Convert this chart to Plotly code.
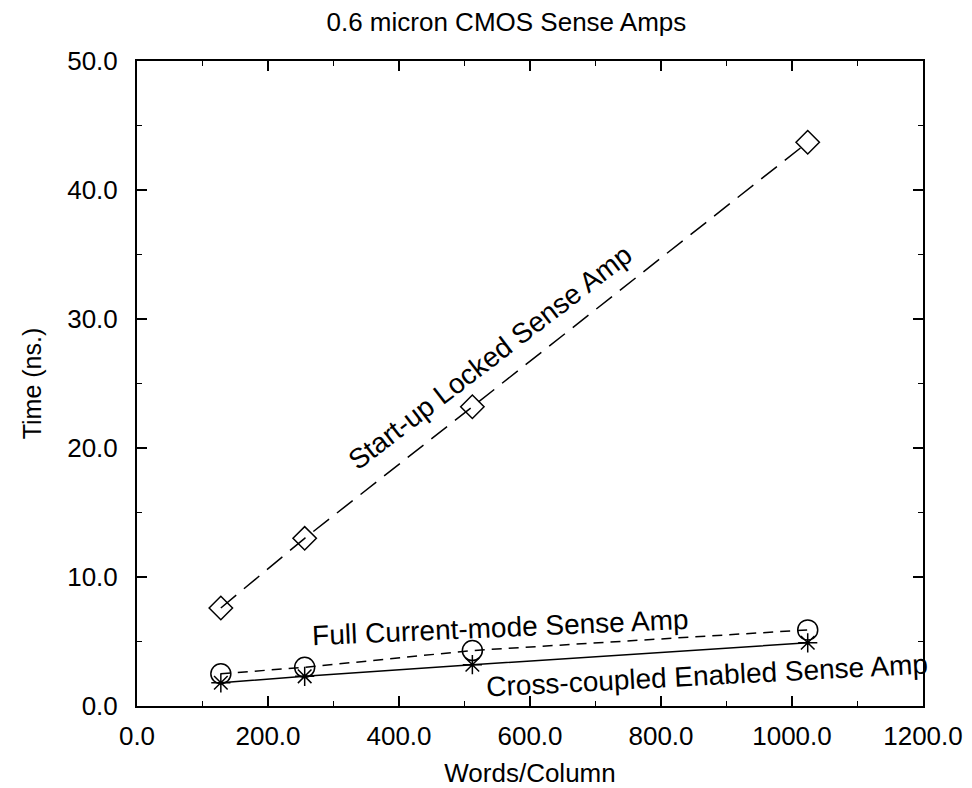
import plotly.graph_objects as go

words = [128, 256, 512, 1024]
startup = [7.6, 13.0, 23.2, 43.7]
fullcurrent = [2.5, 3.0, 4.3, 5.9]
crosscoupled = [1.8, 2.3, 3.2, 4.9]

FONT = "Liberation Sans, Arial, sans-serif"

fig = go.Figure()
fig.add_trace(go.Scatter(x=words, y=startup, mode="lines+markers",
    line=dict(color="black", width=1.5, dash="20px,10px"),
    marker=dict(symbol="diamond-open", size=18, color="black", line=dict(width=1.5))))
fig.add_trace(go.Scatter(x=words, y=fullcurrent, mode="lines+markers",
    line=dict(color="black", width=1.5, dash="10px,7px"),
    marker=dict(symbol="circle-open", size=20, color="black", line=dict(width=1.5))))
fig.add_trace(go.Scatter(x=words, y=crosscoupled, mode="lines+markers",
    line=dict(color="black", width=1.5),
    marker=dict(symbol="asterisk-open", size=16, color="black", line=dict(width=1.5))))

ann = dict(showarrow=False, font=dict(family=FONT, size=28, color="black"),
           xref="x", yref="y")
fig.add_annotation(text="Start-up Locked Sense Amp", x=539, y=27.0, textangle=-37.5, **ann)
fig.add_annotation(text="Full Current-mode Sense Amp", x=555, y=6.1, textangle=-2.5, **ann)
fig.add_annotation(text="Cross-coupled Enabled Sense Amp", x=870, y=2.4, textangle=-3, **ann)

axis_common = dict(showgrid=False, zeroline=False, showline=True, linecolor="black",
    linewidth=2, mirror="ticks", ticks="inside", ticklen=10, tickwidth=1.5,
    tickcolor="black", tickformat=".1f",
    tickfont=dict(family=FONT, size=26, color="black"))

fig.update_xaxes(range=[0, 1200], dtick=200, ticklabelstandoff=6,
    minor=dict(dtick=100, ticks="inside", ticklen=5, tickcolor="black", tickwidth=1.2),
    title=dict(text="Words/Column", font=dict(family=FONT, size=26, color="black"), standoff=14),
    **axis_common)
fig.update_yaxes(range=[0, 50], dtick=10, ticklabelstandoff=12,
    minor=dict(dtick=5, ticks="inside", ticklen=5, tickcolor="black", tickwidth=1.2),
    title=dict(text="Time (ns.)", font=dict(family=FONT, size=25, color="black"), standoff=18),
    **axis_common)

fig.update_layout(
    width=972, height=788,
    margin=dict(l=137, r=49, t=61, b=82, autoexpand=False),
    paper_bgcolor="white", plot_bgcolor="white",
    showlegend=False,
    title=dict(text="0.6 micron CMOS Sense Amps", x=0.521, xanchor="center", y=0.972, yanchor="middle",
               font=dict(family=FONT, size=26, color="black")),
)

fig.write_html("out.html")
